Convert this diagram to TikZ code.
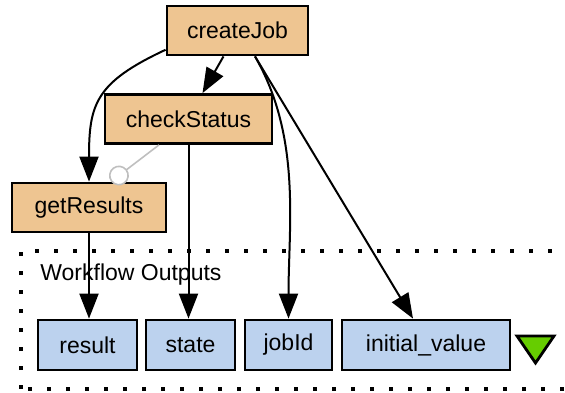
\documentclass[tikz,border=0pt]{standalone}
\usepackage{fontspec}
\setmainfont{Liberation Sans}
\usepackage{xcolor}
\definecolor{TaskOrange}{HTML}{EEC591}
\definecolor{PortBlue}{HTML}{BCD2EE}
\definecolor{MarkGreen}{HTML}{66CD00}
\usepackage{tikz}
\usetikzlibrary{arrows.meta,positioning}

\begin{document}
\begin{tikzpicture}[x=0.5pt, y=0.5pt,
		task/.style={draw, line width=1.4pt, fill=TaskOrange, inner sep=0pt, minimum height=24.5pt, font=\fontsize{11.5}{13}\selectfont},
		outport/.style={draw, line width=1.4pt, fill=PortBlue, inner sep=0pt, minimum height=25pt, font=\fontsize{11.5}{13}\selectfont},
		flow/.style={line width=1pt, -{Triangle[length=12.5pt,width=9.5pt]}},
		ctrl/.style={line width=0.8pt, black!25, -{Circle[open,length=10pt,fill=white]}},
		cluster/.style={line width=2pt, dash pattern=on 2pt off 7.5pt}]
		\useasboundingbox (0,0) rectangle (565,392);
		\clip (0,0) rectangle (565,392);
		% workflow outputs box
		\draw[cluster] (21,3) rectangle (620,141);
		\node[anchor=west, inner sep=0pt, font=\fontsize{11.5}{13}\selectfont] (outlabel) at (40,117) {Workflow Outputs};
		% processors
		\node[task, minimum width=70.5pt] (createJob) at (237.5,361.5) {createJob};
		\node[task, minimum width=83.5pt] (checkStatus) at (188.5,273) {checkStatus};
		\node[task, minimum width=77pt] (getResults) at (89,184.5) {getResults};
		% outputs
		\node[outport, minimum width=49.5pt] (result) at (87.5,47) {result};
		\node[outport, minimum width=44.5pt] (state) at (190.5,47) {state};
		\node[outport, minimum width=43.5pt] (jobId) at (288.5,47) {jobId};
		\node[outport, minimum width=84pt] (initval) at (426,47) {initial\_value};
		\filldraw[line width=1.4pt, fill=MarkGreen, line join=miter] (517,56) -- (554,56) -- (535.5,29) -- cycle;
		% links
		\draw[flow] ([xshift=-7pt]createJob.south) -- ([xshift=7pt]checkStatus.north);
		\draw[flow] (createJob.195) to[out=205, in=90, looseness=1.3] (getResults.north);
		\draw[flow] ([xshift=8.75pt]createJob.south) to[out=-60, in=90, looseness=0.9] (jobId.north);
		\draw[flow] ([xshift=8.75pt]createJob.south) -- ([xshift=-6.5pt]initval.north);
		\draw[ctrl] ([xshift=-14.75pt]checkStatus.south) -- ([xshift=11pt]getResults.north);
		\draw[flow] (checkStatus.south) -- (checkStatus.south |- state.north);
		\draw[flow] (getResults.south) -- (getResults.south |- result.north);
	\end{tikzpicture}
\end{document}
